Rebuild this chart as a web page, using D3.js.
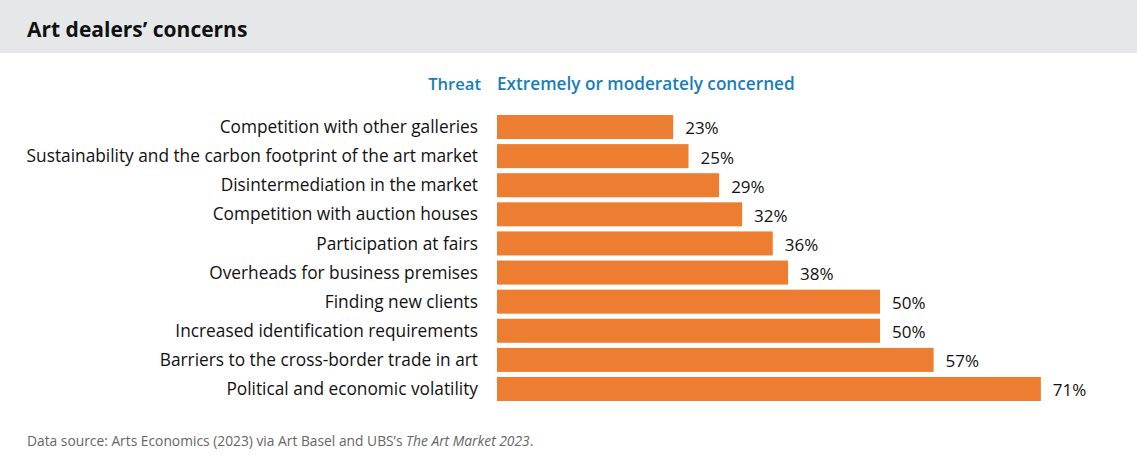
<!DOCTYPE html>
<html>
<head>
<meta charset="utf-8">
<script src="https://cdn.jsdelivr.net/npm/d3@7"></script>
<style>
  html, body { margin: 0; padding: 0; background: #fff; }
  svg { display: block; }
</style>
</head>
<body>
<svg id="chart" width="1137" height="466"></svg>
<script>
// data
const threats = [
  'Competition with other galleries',
  'Sustainability and the carbon footprint of the art market',
  'Disintermediation in the market',
  'Competition with auction houses',
  'Participation at fairs',
  'Overheads for business premises',
  'Finding new clients',
  'Increased identification requirements',
  'Barriers to the cross-border trade in art',
  'Political and economic volatility'
];
const concerned = [23, 25, 29, 32, 36, 38, 50, 50, 57, 71];

const W = 1137, H = 466;
const FONT = '"Open Sans", "Noto Sans", sans-serif';
const ORANGE = '#ed7d31';
const BLUE = '#1b7db6';
const TEXT = '#111';

const svg = d3.select('#chart');

// header band
svg.append('rect').attr('x', 0).attr('y', 0).attr('width', W).attr('height', 53).attr('fill', '#e6e7e8');
svg.append('text')
  .attr('x', 27).attr('y', 37)
  .attr('font-family', FONT).attr('font-weight', 700).attr('font-size', 21)
  .attr('fill', '#111')
  .text('Art dealers\u2019 concerns');

const x0 = 497;
const x = d3.scaleLinear().domain([0, 100]).range([x0, x0 + 766]);
const y = d3.scaleBand().domain(threats).range([115, 401]).paddingInner(0.175).paddingOuter(0);

// column headers
svg.append('text')
  .attr('x', 481).attr('y', 90).attr('text-anchor', 'end')
  .attr('font-family', FONT).attr('font-weight', 600).attr('font-size', 16.6)
  .attr('fill', BLUE).text('Threat');
svg.append('text')
  .attr('x', x0).attr('y', 90)
  .attr('font-family', FONT).attr('font-weight', 600).attr('font-size', 17.2)
  .attr('fill', BLUE).text('Extremely or moderately concerned');

const rows = svg.append('g')
  .selectAll('g').data(threats).join('g')
  .attr('transform', d => `translate(0,${y(d)})`);

rows.append('rect')
  .attr('x', x(0))
  .attr('width', (d, i) => x(concerned[i]) - x(0))
  .attr('height', y.bandwidth())
  .attr('fill', ORANGE);

rows.append('text')
  .attr('x', 478).attr('y', y.bandwidth() / 2).attr('dy', '0.35em')
  .attr('text-anchor', 'end')
  .attr('font-family', FONT).attr('font-size', 17.3)
  .attr('fill', TEXT)
  .text(d => d);

rows.append('text')
  .attr('x', (d, i) => x(concerned[i]) + 12)
  .attr('y', y.bandwidth() / 2 + 1.5).attr('dy', '0.35em')
  .attr('font-family', FONT).attr('font-size', 17)
  .attr('fill', TEXT)
  .text((d, i) => concerned[i] + '%');

// footer
const foot = svg.append('text')
  .attr('x', 27).attr('y', 446)
  .attr('font-family', FONT).attr('font-size', 13.8)
  .attr('fill', '#666');
foot.append('tspan').text('Data source: Arts Economics (2023) via Art Basel and UBS\u2019s ');
foot.append('tspan').attr('font-style', 'italic').text('The Art Market 2023');
foot.append('tspan').text('.');
</script>
</body>
</html>
